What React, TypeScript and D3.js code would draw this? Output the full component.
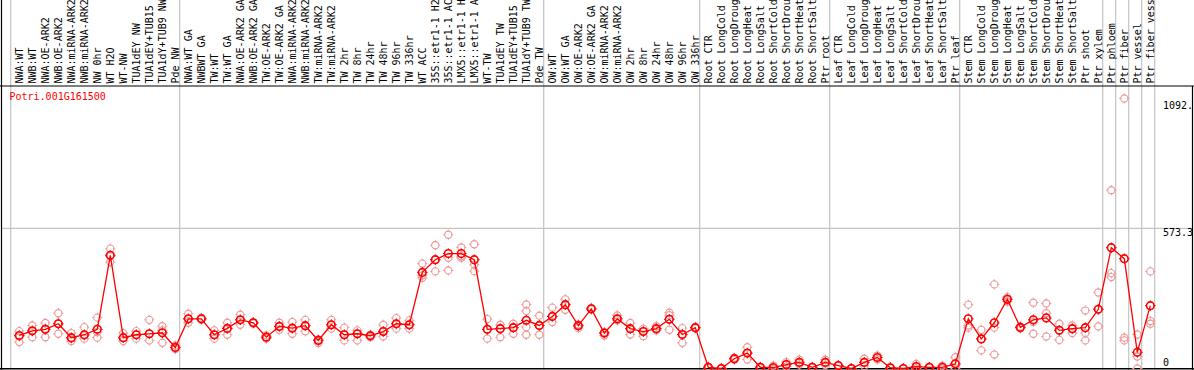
import React from "react";
import * as d3 from "d3";

const categories: string[] = [
  "NWA:WT", "NWB:WT", "NWA:OE-ARK2", "NWB:OE-ARK2", "NWA:miRNA-ARK2", "NWB:miRNA-ARK2",
  "NW 0hr", "WT H2O", "WT-NW", "TUA1dEY NW", "TUA1dEY+TUB15", "TUA1dY+TUB9 NW", "Pde NW",
  "NWA:WT GA", "NWBWT GA", "TW:WT", "TW:WT GA", "NWA:OE-ARK2 GA", "NWB:OE-ARK2 GA",
  "TW:OE-ARK2", "TW:OE-ARK2 GA", "NWA:miRNA-ARK2", "NWB:miRNA-ARK2", "TW:miRNA-ARK2",
  "TW:miRNA-ARK2", "TW 2hr", "TW 8hr", "TW 24hr", "TW 48hr", "TW 96hr", "TW 336hr",
  "WT ACC", "35S::etr1-1 H2O", "35S::etr1-1 ACC", "LMX5::etr1-1 H2O", "LMX5::etr1-1 ACC",
  "WT-TW", "TUA1dEY TW", "TUA1dEY+TUB15", "TUA1dY+TUB9 TW", "Pde TW",
  "OW:WT", "OW:WT GA", "OW:OE-ARK2", "OW:OE-ARK2 GA", "OW:miRNA-ARK2", "OW:miRNA-ARK2",
  "OW 2hr", "OW 8hr", "OW 24hr", "OW 48hr", "OW 96hr", "OW 336hr",
  "Root CTR", "Root LongCold", "Root LongDrought", "Root LongHeat", "Root LongSalt",
  "Root ShortCold", "Root ShortDrought", "Root ShortHeat", "Root ShortSalt", "Ptr root",
  "Leaf CTR", "Leaf LongCold", "Leaf LongDrought", "Leaf LongHeat", "Leaf LongSalt",
  "Leaf ShortCold", "Leaf ShortDrought", "Leaf ShortHeat", "Leaf ShortSalt", "Ptr leaf",
  "Stem CTR", "Stem LongCold", "Stem LongDrought", "Stem LongHeat", "Stem LongSalt",
  "Stem ShortCold", "Stem ShortDrought", "Stem ShortHeat", "Stem ShortSalt", "Ptr shoot",
  "Ptr xylem", "Ptr phloem", "Ptr fiber", "Ptr vessel", "Ptr fiber vessel",
];

const meanValues: number[] = [
  135, 154, 160, 183, 126, 138, 160, 463, 126, 138, 142, 146, 86,
  203, 203, 138, 164, 199, 187, 128, 172, 165, 175, 115, 179, 138, 142, 134, 151, 183, 179,
  393, 445, 470, 470, 445, 160, 163, 167, 197, 176,
  213, 261, 175, 244, 145, 203, 163, 151, 163, 201, 139, 167,
  5, 0, 40, 63, 5, 4, 16, 25, 5, 25,
  12, 0, 25, 45, 3, 0, 8, 5, 5, 19,
  203, 121, 187, 283, 168, 199, 207, 156, 163, 167, 242, 494, 449, 66, 257,
];

const replicateValues: number[][] = [
  [153, 131, 108], [176, 152, 128], [186, 163, 128], [226, 183, 142], [145, 122, 112],
  [169, 135, 122], [208, 149, 126], [490, 459, 435], [145, 126, 112], [153, 138, 122],
  [199, 142, 115], [173, 156, 105], [94, 86, 79],
  [224, 203, 187], [207, 203, 200], [156, 138, 122], [187, 164, 138], [220, 199, 179],
  [190, 187, 184], [135, 128, 122], [187, 172, 158], [190, 164, 142], [199, 175, 152],
  [119, 115, 104], [199, 179, 163], [167, 138, 115], [156, 142, 115], [138, 134, 128],
  [179, 152, 131], [206, 183, 163], [197, 179, 163],
  [429, 381, 371], [504, 445, 397], [547, 453, 401], [495, 453, 459], [508, 425, 398],
  [202, 160, 122], [179, 163, 128], [183, 167, 142], [262, 235, 169, 138], [216, 176, 138],
  [249, 213, 190], [283, 261, 240], [180, 175, 165], [248, 244, 242], [149, 145, 135],
  [217, 203, 197], [186, 163, 139], [163, 152, 132], [173, 163, 156], [228, 218, 158],
  [165, 139, 105], [170, 167, 164],
  [8, 5, 2], [1, 0, 0], [44, 40, 36], [87, 63, 37], [7, 5, 3], [12, 0, 0], [26, 16, 8],
  [36, 25, 16], [7, 5, 3], [36, 25, 14],
  [14, 12, 10], [1, 0, 0], [40, 25, 10], [53, 45, 37], [5, 3, 1], [0, 0, 0], [19, 8, 0],
  [7, 5, 3], [12, 5, 0], [46, 19, 0],
  [261, 176, 167], [158, 121, 74], [344, 167, 57], [292, 283, 274], [172, 168, 164],
  [269, 190, 142], [266, 226, 131], [183, 156, 117], [176, 163, 145], [237, 145, 115],
  [311, 242, 172], [729, 390, 374], [1104, 126, 115], [139, 49, 0], [397, 194, 183],
];

// column index boundaries where vertical gray separators are drawn
const groupBoundaries: number[] = [0, 13, 41, 53, 63, 73, 84, 85, 86, 87, 88];

const tickValues: number[] = [0, 573.3, 1092];
const tickLabels: string[] = ["0", "573.3", "1092."];

const geneId = "Potri.001G161500";

const W = 1194;
const H = 370;
const HEADER_BOTTOM = 86;
const PLOT_RIGHT = 1192.5;
const MONO = "'DejaVu Sans Mono', 'Liberation Mono', monospace";

const colEdge = d3.scaleLinear().domain([0, categories.length]).range([10.7, 10.7 + 13 * categories.length]);
const x = (i: number) => colEdge(i) + 8.6;
const y = d3.scaleLinear().domain([0, 573.3]).range([368.5, 228.3]);

function Marker({ cx, cy, color, sw, r }: { cx: number; cy: number; color: string; sw: number; r: number }) {
  const t = r + 1.5;
  return (
    <g stroke={color} strokeWidth={sw} fill="none">
      <circle cx={cx} cy={cy} r={r} />
      <line x1={cx} y1={cy - t} x2={cx} y2={cy - r + 0.5} strokeWidth={1} />
      <line x1={cx} y1={cy + r - 0.5} x2={cx} y2={cy + t} strokeWidth={1} />
      <line x1={cx - t} y1={cy} x2={cx - r + 0.5} y2={cy} strokeWidth={1} />
      <line x1={cx + r - 0.5} y1={cy} x2={cx + t} y2={cy} strokeWidth={1} />
    </g>
  );
}

export default function App() {
  const line = d3
    .line<number>()
    .x((_, i) => x(i))
    .y((d) => y(d));

  return (
    <svg
      width={W}
      height={H}
      style={{ position: "absolute", left: 0, top: 0, background: "#fff" }}
      fontFamily={MONO}
    >
      <rect x={0} y={0} width={W} height={H} fill="#fff" />
      {/* vertical group separators */}
      {groupBoundaries.map((b) => (
        <line
          key={"g" + b}
          x1={colEdge(b)}
          x2={colEdge(b)}
          y1={0}
          y2={H}
          stroke="#c4c4c4"
          strokeWidth={1.2}
        />
      ))}
      {/* horizontal grid */}
      <line x1={1} x2={PLOT_RIGHT} y1={y(573.3)} y2={y(573.3)} stroke="#c4c4c4" strokeWidth={1.2} />
      {/* frame */}
      <line x1={0} x2={W} y1={HEADER_BOTTOM} y2={HEADER_BOTTOM} stroke="#000" strokeWidth={1.2} />
      <line x1={0} x2={W} y1={368.8} y2={368.8} stroke="#000" strokeWidth={1.4} />
      <line x1={1.5} x2={1.5} y1={0} y2={H} stroke="#000" strokeWidth={1.2} />
      <line x1={PLOT_RIGHT} x2={PLOT_RIGHT} y1={HEADER_BOTTOM} y2={H} stroke="#000" strokeWidth={1.2} />

      {/* category labels */}
      {categories.map((c, i) => (
        <text
          key={"l" + i}
          transform={`translate(${colEdge(i) + 12.2},83.5) rotate(-90)`}
          fontSize={10}
          fill="#000"
        >
          {c}
        </text>
      ))}

      {/* y tick labels */}
      {tickValues.map((v, i) => (
        <text
          key={"t" + i}
          x={1163}
          y={v === 0 ? y(v) - 2.5 : y(v) + 8}
          fontSize={10}
          fill="#000"
        >
          {tickLabels[i]}
        </text>
      ))}

      <text x={9.5} y={100} fontSize={10} fill="#ff0000">
        {geneId}
      </text>

      {/* replicates */}
      {replicateValues.map((reps, i) =>
        reps.map((v, j) => (
          <Marker key={`r${i}-${j}`} cx={x(i)} cy={y(v)} color="#ec9a9a" sw={1.1} r={3.6} />
        ))
      )}

      {/* mean line */}
      <path d={line(meanValues) || ""} fill="none" stroke="#ff0000" strokeWidth={1.3} />

      {/* means */}
      {meanValues.map((v, i) => (
        <Marker key={"m" + i} cx={x(i)} cy={y(v)} color="#ff0000" sw={1.6} r={3.8} />
      ))}
    </svg>
  );
}
